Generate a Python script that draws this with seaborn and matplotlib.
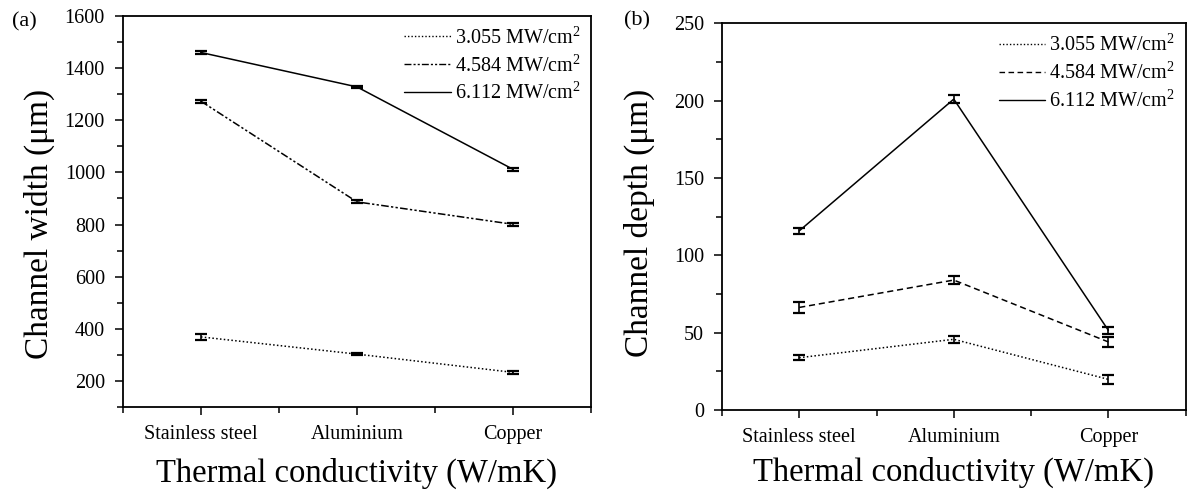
import matplotlib
matplotlib.use("Agg")
import matplotlib.pyplot as plt
from matplotlib.ticker import MultipleLocator, FixedLocator
import seaborn as sns
import pandas as pd

materials = ["Stainless steel", "Aluminium", "Copper"]
series = ["3.055 MW/cm$^2$", "4.584 MW/cm$^2$", "6.112 MW/cm$^2$"]

width_3055 = [369, 303, 233]
width_4584 = [1273, 887, 801]
width_6112 = [1460, 1328, 1012]
width_err_3055 = [10, 5, 5]
width_err_4584 = [6, 6, 5]
width_err_6112 = [4, 4, 5]

depth_3055 = [33.8, 45.7, 19.8]
depth_4584 = [66.3, 84.0, 44.0]
depth_6112 = [115.8, 201.0, 51.5]
depth_err_3055 = [1.5, 2.2, 2.7]
depth_err_4584 = [3.8, 2.4, 3.0]
depth_err_6112 = [2.0, 2.8, 2.2]

sns.set_theme(style="ticks")
plt.rcParams["font.family"] = ["Liberation Serif", "DejaVu Serif"]
plt.rcParams["mathtext.fontset"] = "custom"
plt.rcParams["mathtext.rm"] = "Liberation Serif"
plt.rcParams["text.color"] = "black"
plt.rcParams["axes.labelcolor"] = "black"
plt.rcParams["xtick.color"] = "black"
plt.rcParams["ytick.color"] = "black"

fig = plt.figure(figsize=(11.88, 4.91), dpi=100)
fig.patch.set_facecolor("white")
axL = fig.add_axes([0.1035, 0.171, 0.394, 0.7964])
axR = fig.add_axes([0.6077, 0.165, 0.3903, 0.7875])


def draw(ax, vals, errs, dashes, ylim, ymaj, ymin, ylabel, ylab_xy, xpad):
    rows = []
    for s, v in zip(series, vals):
        for m, y in zip(materials, v):
            rows.append({"Material": m, "Power": s, "Value": y})
    df = pd.DataFrame(rows)
    sns.lineplot(data=df, x="Material", y="Value", hue="Power", style="Power",
                 palette=["black"] * 3, dashes=dashes, linewidth=1.1,
                 sort=False, ax=ax, legend=True)
    for v, e in zip(vals, errs):
        ax.errorbar(range(len(materials)), v, yerr=e, fmt="none", ecolor="black",
                    elinewidth=1.2, capsize=4, capthick=1.6)
    ax.set_xlim(-0.5, 2.5)
    ax.set_ylim(*ylim)
    ax.yaxis.set_major_locator(MultipleLocator(ymaj))
    ax.yaxis.set_minor_locator(MultipleLocator(ymin))
    ax.xaxis.set_major_locator(FixedLocator([0, 1, 2]))
    ax.xaxis.set_minor_locator(FixedLocator([-0.5, 0.5, 1.5, 2.5]))
    ax.set_xticklabels(materials)
    ax.tick_params(axis="both", which="major", direction="out", length=6,
                   width=1.1, labelsize=14.5, colors="black", pad=7)
    ax.tick_params(axis="both", which="minor", direction="out", length=4, width=1.1)
    for sp in ax.spines.values():
        sp.set_visible(True)
        sp.set_linewidth(1.3)
        sp.set_color("black")
    ax.set_xlabel("Thermal conductivity (W/mK)", fontsize=23.5, labelpad=xpad)
    ax.set_ylabel(ylabel, fontsize=24)
    ax.yaxis.set_label_coords(*ylab_xy)
    leg = ax.legend(loc="upper right", frameon=False, fontsize=14.5,
                    handlelength=2.3, handletextpad=0.2, labelspacing=0.3,
                    borderaxespad=0.12)
    for h in leg.get_lines():
        h.set_linewidth(1.0)


draw(axL, [width_3055, width_4584, width_6112],
     [width_err_3055, width_err_4584, width_err_6112],
     [(1, 1.5), (5, 1.5, 1.5, 1.5, 1.5, 1.5), ""],
     (100, 1600), 200, 100, "Channel width (\u03bcm)", (-0.145, 0.468), 10)
draw(axR, [depth_3055, depth_4584, depth_6112],
     [depth_err_3055, depth_err_4584, depth_err_6112],
     [(1, 1.5), (4, 2.5), ""],
     (0, 250), 50, 25, "Channel depth (\u03bcm)", (-0.144, 0.483), 7)

fig.text(0.010, 0.975, "(a)", fontsize=16, va="top", ha="left")
fig.text(0.525, 0.978, "(b)", fontsize=16, va="top", ha="left")

fig.savefig("out.png", dpi=100, facecolor="white")
